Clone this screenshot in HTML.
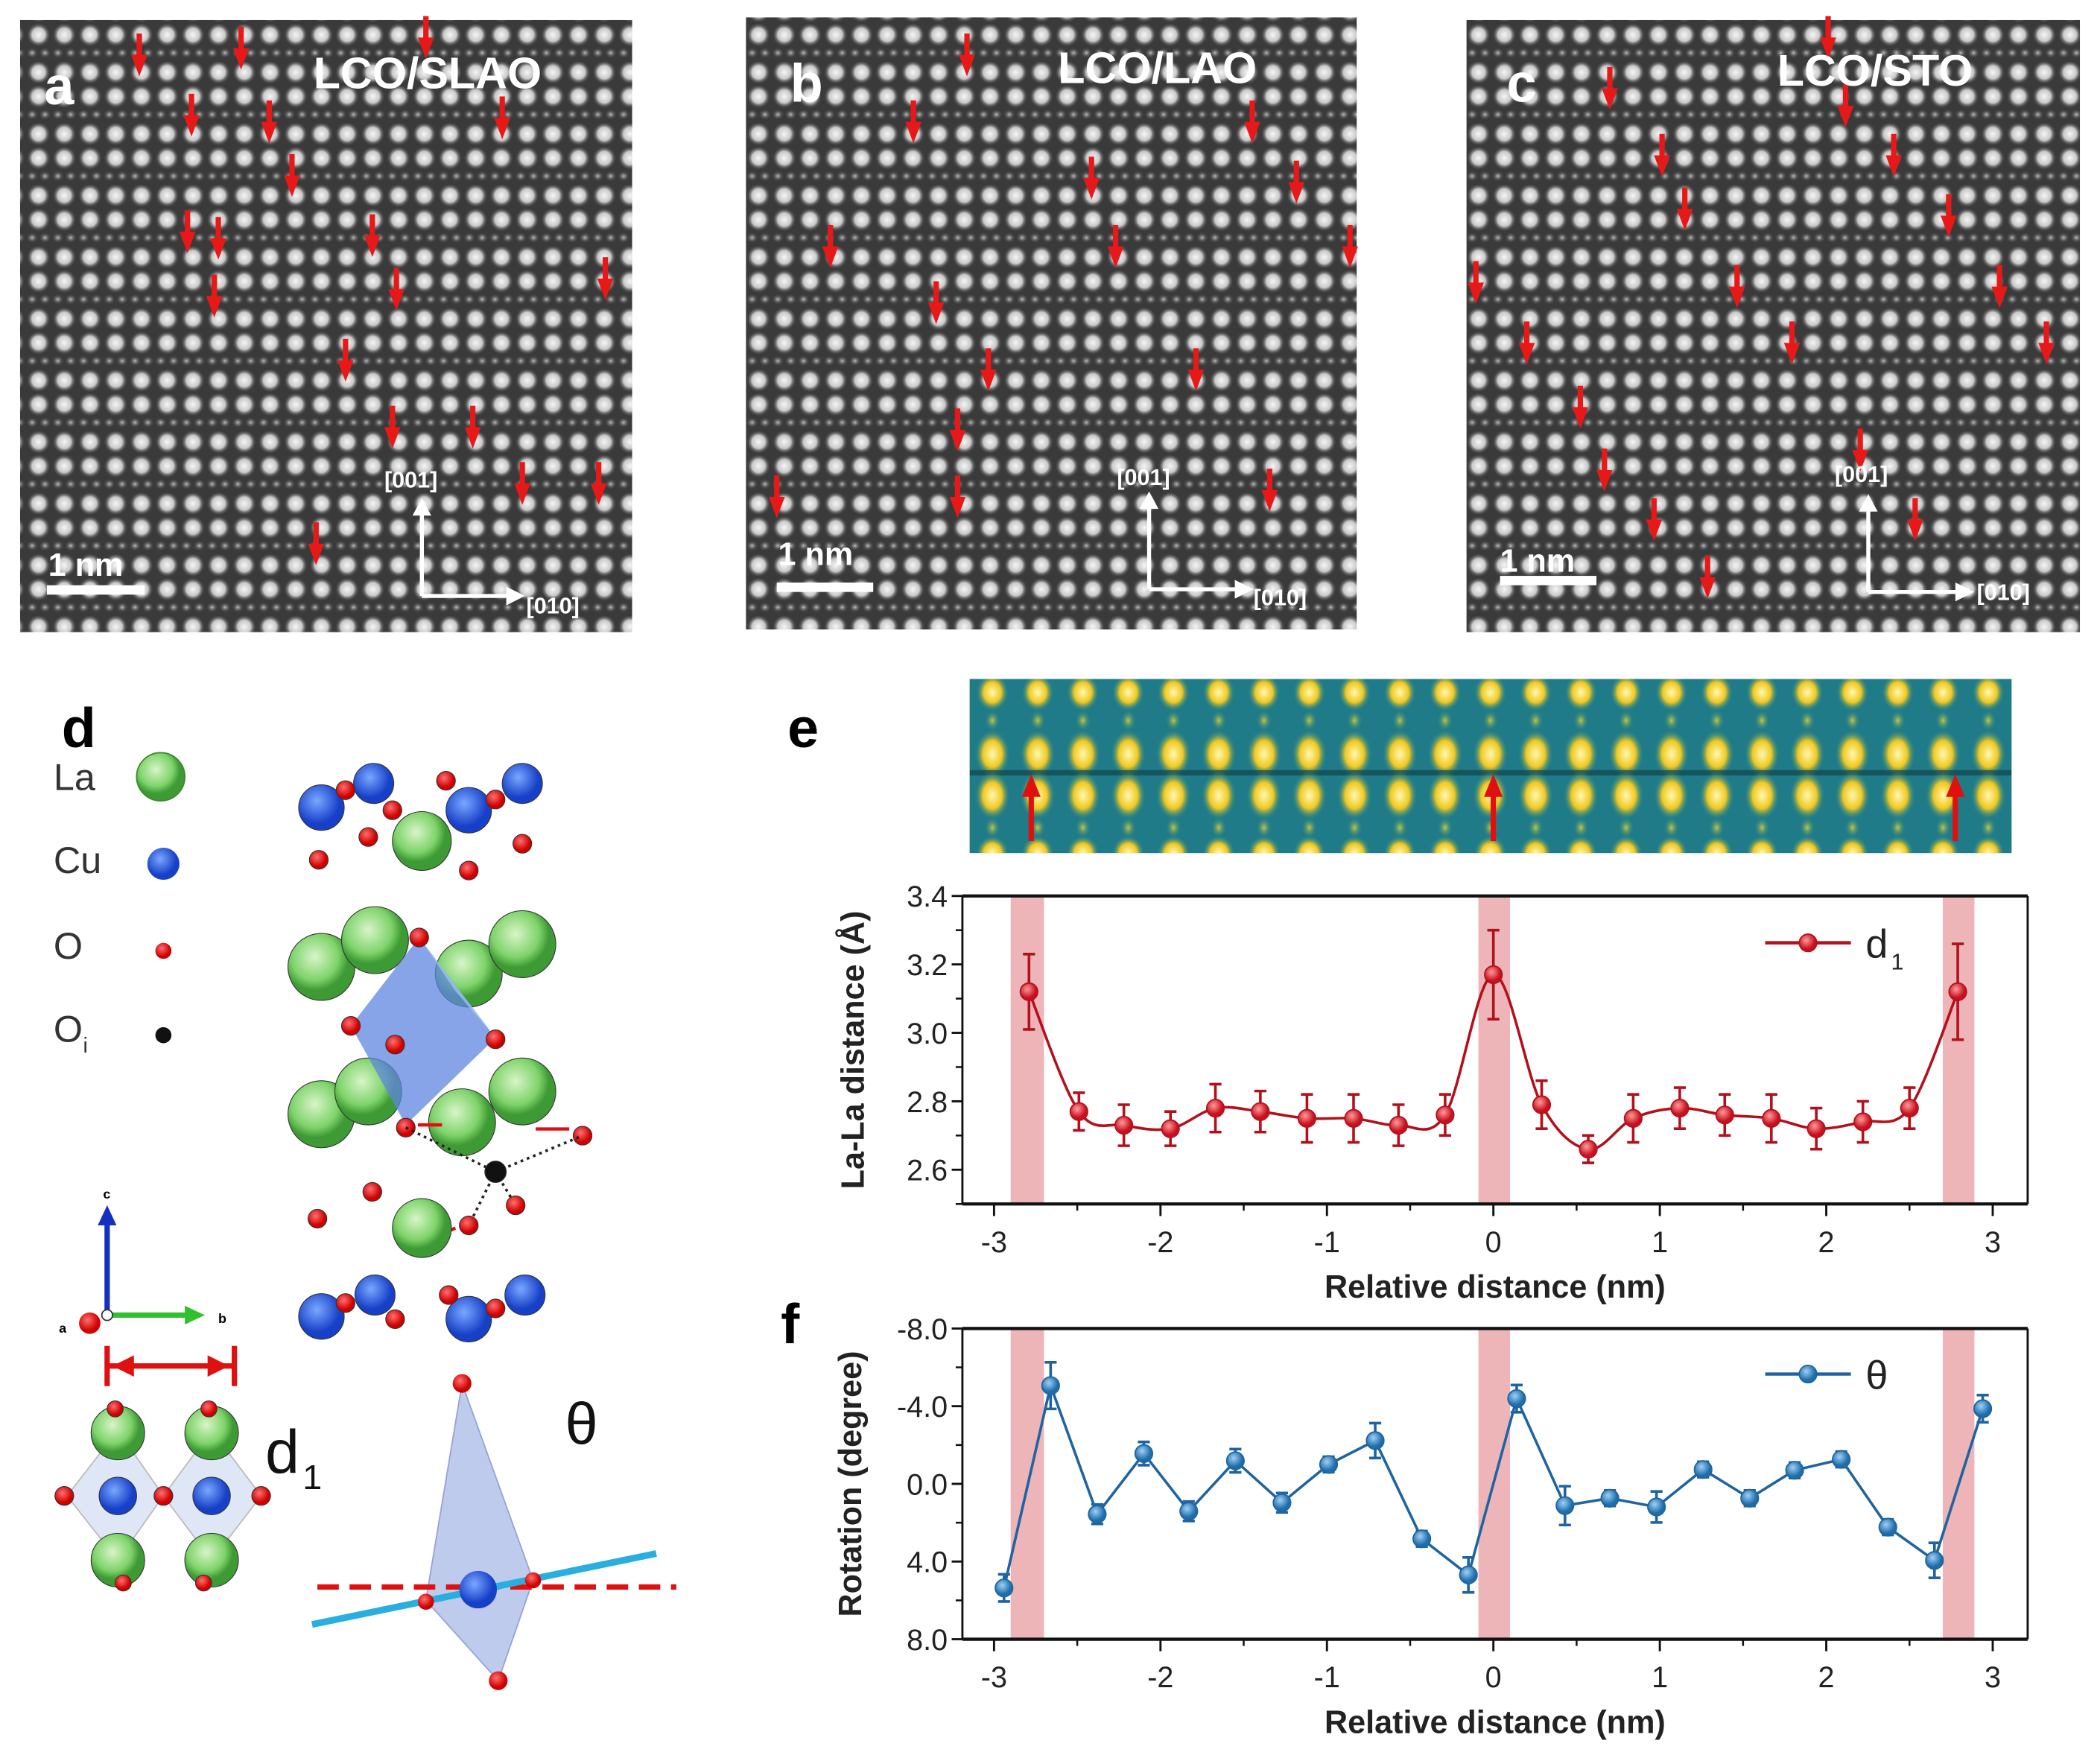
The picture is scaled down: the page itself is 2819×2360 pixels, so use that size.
<!DOCTYPE html>
<html><head><meta charset="utf-8">
<style>
html,body{margin:0;padding:0;background:#fff;}
svg{display:block;font-family:"Liberation Sans",Arial,sans-serif;}
</style></head>
<body>
<svg id="fig" width="2819" height="2360" viewBox="0 0 1568 1312.7" xmlns="http://www.w3.org/2000/svg">
<defs>
  <radialGradient id="dotg"><stop offset="0" stop-color="#f6f6f6"/><stop offset="0.55" stop-color="#c8c8c8"/><stop offset="1" stop-color="#3c3c3c" stop-opacity="0"/></radialGradient>
  <radialGradient id="sdot"><stop offset="0" stop-color="#c0c0c0"/><stop offset="1" stop-color="#444" stop-opacity="0"/></radialGradient>
  <pattern id="stem" width="19.2" height="46" patternUnits="userSpaceOnUse">
    <rect width="19.2" height="46" fill="#3a3a3a"/>
    <ellipse cx="9.6" cy="8" rx="9" ry="9" fill="url(#dotg)"/>
    <ellipse cx="9.6" cy="26" rx="9" ry="9" fill="url(#dotg)"/>
    <ellipse cx="4.8" cy="39.5" rx="4.5" ry="4" fill="url(#sdot)"/>
    <ellipse cx="14.4" cy="39.5" rx="4.5" ry="4" fill="url(#sdot)"/>
  </pattern>
  <radialGradient id="ydot"><stop offset="0" stop-color="#fff8b0"/><stop offset="0.55" stop-color="#f0c820"/><stop offset="1" stop-color="#2a8a8a" stop-opacity="0"/></radialGradient>
  <radialGradient id="ysm"><stop offset="0" stop-color="#c8c840"/><stop offset="1" stop-color="#1f7f8a" stop-opacity="0"/></radialGradient>
  <pattern id="eimg" x="724" y="507" width="33.8" height="130" patternUnits="userSpaceOnUse">
    <rect width="33.8" height="130" fill="#1f7b88"/>
    <ellipse cx="17" cy="10" rx="12" ry="14" fill="url(#ydot)"/>
    <ellipse cx="17" cy="31" rx="6" ry="8" fill="url(#ysm)"/>
    <ellipse cx="17" cy="56" rx="13" ry="18" fill="url(#ydot)"/>
    <rect x="0" y="68" width="33.8" height="4" fill="#0f3a40" opacity="0.6"/>
    <ellipse cx="17" cy="87" rx="13" ry="18" fill="url(#ydot)"/>
    <ellipse cx="17" cy="111" rx="6" ry="8" fill="url(#ysm)"/>
    <ellipse cx="17" cy="130" rx="12" ry="13" fill="url(#ydot)"/>
  </pattern>
  <radialGradient id="gLa" cx="0.4" cy="0.35"><stop offset="0" stop-color="#d8f5c8"/><stop offset="0.7" stop-color="#7ed36a"/><stop offset="1" stop-color="#3e9a34"/></radialGradient>
  <radialGradient id="gCu" cx="0.4" cy="0.35"><stop offset="0" stop-color="#7aa8ff"/><stop offset="1" stop-color="#1740c8"/></radialGradient>
  <radialGradient id="gO" cx="0.4" cy="0.35"><stop offset="0" stop-color="#ff7070"/><stop offset="1" stop-color="#d00000"/></radialGradient>
  <radialGradient id="gRed" cx="0.4" cy="0.35"><stop offset="0" stop-color="#ff9a9a"/><stop offset="1" stop-color="#c8101e"/></radialGradient>
  <radialGradient id="gBlue" cx="0.4" cy="0.35"><stop offset="0" stop-color="#9fd0f5"/><stop offset="1" stop-color="#1f6eaa"/></radialGradient>
</defs>

<!-- Panel a -->
<g>
  <rect x="15" y="15" width="457" height="457" fill="url(#stem)"/>
  <g id="arrA"></g>
  <text x="33" y="78" font-size="40" font-weight="bold" fill="#fff">a</text>
  <text x="234" y="66" font-size="33" font-weight="bold" fill="#fff">LCO/SLAO</text>
  <text x="36" y="430" font-size="24" font-weight="bold" fill="#fff">1 nm</text>
  <rect x="35" y="437" width="73" height="7" fill="#fff"/>
  <text x="287" y="364" font-size="17" font-weight="bold" fill="#fff">[001]</text>
  <text x="393" y="458" font-size="17" font-weight="bold" fill="#fff">[010]</text>
  <path d="M315,445 V378 M315,445 H380" stroke="#fff" stroke-width="3" fill="none"/>
  <path d="M308,385 L315,372 L322,385 Z M378,438 L392,445 L378,452 Z" fill="#fff"/>
</g>
<!-- Panel b -->
<g>
  <rect x="557" y="13" width="456" height="457" fill="url(#stem)"/>
  <g id="arrB"></g>
  <text x="590" y="76" font-size="40" font-weight="bold" fill="#fff">b</text>
  <text x="790" y="62" font-size="33" font-weight="bold" fill="#fff">LCO/LAO</text>
  <text x="581" y="422" font-size="24" font-weight="bold" fill="#fff">1 nm</text>
  <rect x="580" y="435" width="72" height="7" fill="#fff"/>
  <text x="834" y="362" font-size="17" font-weight="bold" fill="#fff">[001]</text>
  <text x="936" y="452" font-size="17" font-weight="bold" fill="#fff">[010]</text>
  <path d="M858,440 V376 M858,440 H925" stroke="#fff" stroke-width="3" fill="none"/>
  <path d="M851,380 L858,367 L865,380 Z M922,433 L936,440 L922,447 Z" fill="#fff"/>
</g>
<!-- Panel c -->
<g>
  <rect x="1095" y="15" width="458" height="457" fill="url(#stem)"/>
  <g id="arrC"></g>
  <text x="1125" y="76" font-size="40" font-weight="bold" fill="#fff">c</text>
  <text x="1327" y="64" font-size="33" font-weight="bold" fill="#fff">LCO/STO</text>
  <text x="1120" y="427" font-size="24" font-weight="bold" fill="#fff">1 nm</text>
  <rect x="1120" y="430" width="72" height="7" fill="#fff"/>
  <text x="1370" y="360" font-size="17" font-weight="bold" fill="#fff">[001]</text>
  <text x="1476" y="448" font-size="17" font-weight="bold" fill="#fff">[010]</text>
  <path d="M1395,442 V378 M1395,442 H1462" stroke="#fff" stroke-width="3" fill="none"/>
  <path d="M1388,382 L1395,369 L1402,382 Z M1460,435 L1474,442 L1460,449 Z" fill="#fff"/>
</g>

<!-- Panel d -->
<g>
  <text x="46" y="558" font-size="42" font-weight="bold" fill="#000">d</text>
  <g font-size="28" fill="#333">
    <text x="40" y="590">La</text><circle cx="120" cy="580" r="18" fill="url(#gLa)" stroke="#3a8a30" stroke-width="1"/>
    <text x="40" y="652">Cu</text><circle cx="122" cy="645" r="12" fill="url(#gCu)"/>
    <text x="40" y="716">O</text><circle cx="122" cy="710" r="6" fill="url(#gO)"/>
    <text x="40" y="778">O</text><text x="62" y="786" font-size="16">i</text><circle cx="122" cy="773" r="6" fill="#111"/>
  </g>
  <g>
    <g stroke="#333" stroke-width="0.6">
      <circle cx="240" cy="603" r="17" fill="url(#gCu)"/><circle cx="279" cy="585" r="15" fill="url(#gCu)"/>
      <circle cx="350" cy="605" r="17" fill="url(#gCu)"/><circle cx="390" cy="585" r="15" fill="url(#gCu)"/>
      <circle cx="258" cy="590" r="7" fill="url(#gO)"/><circle cx="293" cy="605" r="7" fill="url(#gO)"/>
      <circle cx="333" cy="583" r="7" fill="url(#gO)"/><circle cx="370" cy="597" r="7" fill="url(#gO)"/>
      <circle cx="315" cy="628" r="22" fill="url(#gLa)"/>
      <circle cx="238" cy="642" r="7" fill="url(#gO)"/><circle cx="275" cy="625" r="7" fill="url(#gO)"/>
      <circle cx="350" cy="650" r="7" fill="url(#gO)"/><circle cx="390" cy="630" r="7" fill="url(#gO)"/>
      <circle cx="240" cy="722" r="25" fill="url(#gLa)"/><circle cx="280" cy="702" r="25" fill="url(#gLa)"/>
      <circle cx="350" cy="727" r="25" fill="url(#gLa)"/><circle cx="390" cy="705" r="25" fill="url(#gLa)"/>
      <circle cx="240" cy="832" r="25" fill="url(#gLa)"/><circle cx="275" cy="815" r="25" fill="url(#gLa)"/>
      <circle cx="345" cy="838" r="25" fill="url(#gLa)"/><circle cx="390" cy="815" r="25" fill="url(#gLa)"/>
    </g>
    <polygon points="313,700 262,766 303,840 370,775" fill="#5f86e0" opacity="0.75"/>
    <polygon points="313,700 370,775 340,740" fill="#a8c4f5" opacity="0.7"/>
    <g stroke="#333" stroke-width="0.6">
      <circle cx="313" cy="700" r="7" fill="url(#gO)"/><circle cx="262" cy="766" r="7" fill="url(#gO)"/>
      <circle cx="295" cy="780" r="7" fill="url(#gO)"/><circle cx="370" cy="776" r="7" fill="url(#gO)"/>
      <circle cx="303" cy="842" r="7" fill="url(#gO)"/><circle cx="435" cy="848" r="7" fill="url(#gO)"/>
    </g>
    <path d="M303,842 L370,875 L435,848 M370,875 L350,915 M370,875 L385,900" stroke="#222" stroke-width="2" stroke-dasharray="2,3" fill="none"/>
    <path d="M330,840 H312 M400,843 H425 M322,925 L340,917" stroke="#e01010" stroke-width="2.5"/>
    <g stroke="#333" stroke-width="0.6">
      <circle cx="370" cy="875" r="8" fill="#111"/>
      <circle cx="315" cy="917" r="22" fill="url(#gLa)"/>
      <circle cx="237" cy="910" r="7" fill="url(#gO)"/><circle cx="278" cy="890" r="7" fill="url(#gO)"/>
      <circle cx="350" cy="915" r="7" fill="url(#gO)"/><circle cx="385" cy="900" r="7" fill="url(#gO)"/>
      <circle cx="240" cy="983" r="17" fill="url(#gCu)"/><circle cx="280" cy="967" r="15" fill="url(#gCu)"/>
      <circle cx="350" cy="985" r="17" fill="url(#gCu)"/><circle cx="392" cy="967" r="15" fill="url(#gCu)"/>
      <circle cx="258" cy="973" r="7" fill="url(#gO)"/><circle cx="295" cy="985" r="7" fill="url(#gO)"/>
      <circle cx="335" cy="967" r="7" fill="url(#gO)"/><circle cx="370" cy="977" r="7" fill="url(#gO)"/>
    </g>
  </g>
  <g>
    <path d="M80,982 V912" stroke="#1530c0" stroke-width="4"/><path d="M73,915 L80,900 L87,915 Z" fill="#1530c0"/>
    <path d="M80,982 H140" stroke="#30c030" stroke-width="4"/><path d="M138,975 L153,982 L138,989 Z" fill="#30c030"/>
    <circle cx="67" cy="988" r="8" fill="url(#gO)"/><circle cx="80" cy="982" r="4" fill="#fff" stroke="#333"/>
    <text x="77" y="895" font-size="10" font-weight="bold">c</text>
    <text x="163" y="988" font-size="10" font-weight="bold">b</text>
    <text x="44" y="995" font-size="10" font-weight="bold">a</text>
  </g>
  <g>
    <path d="M80,1020 H175 M80,1005 V1035 M175,1005 V1035" stroke="#e01010" stroke-width="4"/>
    <path d="M84,1020 L100,1012 L100,1028 Z M171,1020 L155,1012 L155,1028 Z" fill="#e01010"/>
    <polygon points="88,1068 122,1117 88,1165 50,1117" fill="#dfe6f5" stroke="#bbb"/>
    <polygon points="158,1068 195,1117 158,1165 122,1117" fill="#dfe6f5" stroke="#bbb"/>
    <g stroke="#333" stroke-width="0.6">
      <circle cx="88" cy="1070" r="20" fill="url(#gLa)"/><circle cx="158" cy="1070" r="20" fill="url(#gLa)"/>
      <circle cx="88" cy="1165" r="20" fill="url(#gLa)"/><circle cx="158" cy="1165" r="20" fill="url(#gLa)"/>
      <circle cx="88" cy="1117" r="14" fill="url(#gCu)"/><circle cx="158" cy="1117" r="14" fill="url(#gCu)"/>
      <circle cx="48" cy="1117" r="7" fill="url(#gO)"/><circle cx="122" cy="1117" r="7" fill="url(#gO)"/><circle cx="195" cy="1117" r="7" fill="url(#gO)"/>
      <circle cx="86" cy="1052" r="6" fill="url(#gO)"/><circle cx="156" cy="1052" r="6" fill="url(#gO)"/>
      <circle cx="92" cy="1182" r="6" fill="url(#gO)"/><circle cx="152" cy="1182" r="6" fill="url(#gO)"/>
    </g>
    <text x="198" y="1100" font-size="46" fill="#111">d</text><text x="226" y="1112" font-size="26" fill="#111">1</text>
  </g>
  <g>
    <polygon points="345,1033 398,1180 372,1255 318,1195" fill="#b7c6ec" stroke="#8a9ad0" opacity="0.9"/>
    <path d="M237,1185 H505" stroke="#e01010" stroke-width="4" stroke-dasharray="16,8"/>
    <path d="M233,1213 L490,1160" stroke="#2aaee0" stroke-width="5"/>
    <circle cx="357" cy="1187" r="14" fill="url(#gCu)"/>
    <circle cx="345" cy="1033" r="7" fill="url(#gO)"/><circle cx="372" cy="1255" r="7" fill="url(#gO)"/>
    <circle cx="318" cy="1196" r="6" fill="url(#gO)"/><circle cx="398" cy="1180" r="6" fill="url(#gO)"/>
    <text x="422" y="1078" font-size="44" fill="#111">θ</text>
  </g>
</g>

<!-- Panel e image -->
<g>
  <text x="588" y="558" font-size="42" font-weight="bold">e</text>
  <rect x="724" y="507" width="778" height="130" fill="url(#eimg)"/>
  <g fill="#e01010">
    <rect x="768" y="590" width="4" height="38"/><path d="M763,595 L770,578 L777,595 Z"/>
    <rect x="1113" y="590" width="4" height="38"/><path d="M1108,595 L1115,578 L1122,595 Z"/>
    <rect x="1458" y="590" width="4" height="38"/><path d="M1453,595 L1460,578 L1467,595 Z"/>
  </g>
  <g id="chartE"></g>
</g>
<g>
  <text x="583" y="1003" font-size="42" font-weight="bold">f</text>
  <g id="chartF"></g>
</g>
</svg>
<script>
// ---- data: panel e (La-La distance) ----
const xE = [-2.79,-2.49,-2.22,-1.94,-1.67,-1.40,-1.12,-0.84,-0.57,-0.29,0,0.29,0.57,0.84,1.12,1.39,1.67,1.94,2.22,2.50,2.79];
const d1 = [3.12,2.77,2.73,2.72,2.78,2.77,2.75,2.75,2.73,2.76,3.17,2.79,2.66,2.75,2.78,2.76,2.75,2.72,2.74,2.78,3.12];
const d1Err = [0.11,0.055,0.06,0.05,0.07,0.06,0.07,0.07,0.06,0.06,0.13,0.07,0.04,0.07,0.06,0.06,0.07,0.06,0.06,0.06,0.14];
// ---- data: panel f (rotation) ----
const xF = [-2.94,-2.66,-2.38,-2.10,-1.83,-1.55,-1.27,-0.99,-0.71,-0.43,-0.15,0.14,0.43,0.70,0.98,1.26,1.54,1.81,2.09,2.37,2.65,2.94];
const theta = [5.36,-5.06,1.56,-1.56,1.41,-1.19,0.97,-1.0,-2.23,2.83,4.69,-4.39,1.12,0.74,1.19,-0.74,0.74,-0.7,-1.26,2.23,3.94,-3.87];
const thetaErr = [0.7,1.2,0.5,0.6,0.5,0.6,0.5,0.4,0.9,0.4,0.9,0.7,1.0,0.4,0.8,0.4,0.4,0.4,0.4,0.4,0.9,0.7];
// ---- shared ----
const bands = [[-2.9,-2.7],[-0.09,0.1],[2.7,2.89]];
const xTicks = [-3,-2,-1,0,1,2,3];
const xTickLabels = ["-3","-2","-1","0","1","2","3"];
const yTicksE = [2.6,2.8,3.0,3.2,3.4];
const yTickLabelsE = ["2.6","2.8","3.0","3.2","3.4"];
const yTicksF = [-8,-4,0,4,8];
const yTickLabelsF = ["-8.0","-4.0","0.0","4.0","8.0"];

const NS = "http://www.w3.org/2000/svg";
function mk(parent, tag, attrs){const e=document.createElementNS(NS,tag);for(const k in attrs)e.setAttribute(k,attrs[k]);parent.appendChild(e);return e;}

const arrowsA=[[104,25],[180,20],[318,12],[143,70],[201,75],[375,72],[218,115],[140,157],[163,162],[278,160],[160,205],[296,200],[452,192],[258,253],[293,303],[353,303],[390,345],[447,345],[236,390]];
const arrowsB=[[722,25],[682,75],[935,75],[815,117],[968,120],[620,168],[833,168],[1008,168],[699,210],[738,260],[893,260],[715,305],[580,355],[715,355],[948,350]];
const arrowsC=[[1365,12],[1202,50],[1378,63],[1241,100],[1414,100],[1258,140],[1455,145],[1102,195],[1297,198],[1493,198],[1140,240],[1338,240],[1528,240],[1180,288],[1389,320],[1198,335],[1235,372],[1430,372],[1275,415]];
function drawArrows(id, list){
  const g=document.getElementById(id);
  list.forEach(a=>{
    const r=mk(g,'rect',{x:a[0]-2,y:a[1],width:4,height:22,fill:'#e81818'});
    
    
    mk(g,'path',{d:`M${a[0]-6},${a[1]+16} L${a[0]},${a[1]+32} L${a[0]+6},${a[1]+16} Z`,fill:'#e81818'});
  });
}
drawArrows('arrA',arrowsA);drawArrows('arrB',arrowsB);drawArrows('arrC',arrowsC);

function chart(opts){
  const g=document.getElementById(opts.id);
  const L=718.6,R=1514,T=opts.top,B=opts.bottom;
  const xMin=-3.19,xMax=3.21;
  const sx=v=>L+(v-xMin)/(xMax-xMin)*(R-L);
  const sy=v=>opts.invert? T+(v-opts.yMin)/(opts.yMax-opts.yMin)*(B-T) : B-(v-opts.yMin)/(opts.yMax-opts.yMin)*(B-T);
  bands.forEach(b=>{
    const r=mk(g,'rect',{x:sx(b[0]),y:T,width:sx(b[1])-sx(b[0]),height:B-T,fill:'#eaa8ab',opacity:0.85});
    
    
  });
  mk(g,'line',{x1:L,y1:T,x2:R,y2:T,stroke:'#111','stroke-width':2.4});
  mk(g,'line',{x1:L,y1:B,x2:R,y2:B,stroke:'#111','stroke-width':2.4});
  mk(g,'line',{x1:L,y1:T,x2:L,y2:B,stroke:'#111','stroke-width':1.6});
  mk(g,'line',{x1:R,y1:T,x2:R,y2:B,stroke:'#111','stroke-width':1.6});
  xTicks.forEach((t,i)=>{
    mk(g,'line',{x1:sx(t),y1:B,x2:sx(t),y2:B+9,stroke:'#111','stroke-width':1.6});
    if(i<xTicks.length-1) mk(g,'line',{x1:sx(t+0.5),y1:B,x2:sx(t+0.5),y2:B+5,stroke:'#111','stroke-width':1.4});
    const tx=mk(g,'text',{x:sx(t),y:B+36,'font-size':22,'text-anchor':'middle',fill:'#222'});
    tx.textContent=xTickLabels[i];
    
    
  });
  opts.yTicks.forEach((t,i)=>{
    mk(g,'line',{x1:L-8,y1:sy(t),x2:L,y2:sy(t),stroke:'#111','stroke-width':1.6});
    if(i<opts.yTicks.length-1) mk(g,'line',{x1:L-5,y1:sy((t+opts.yTicks[i+1])/2),x2:L,y2:sy((t+opts.yTicks[i+1])/2),stroke:'#111','stroke-width':1.4});
    const tx=mk(g,'text',{x:L-11,y:sy(t)+8,'font-size':22,'text-anchor':'end',fill:'#222'});
    tx.textContent=opts.yTickLabels[i];
    
    
  });
  if(opts.minorBottom!==undefined) mk(g,'line',{x1:L-5,y1:sy(opts.minorBottom),x2:L,y2:sy(opts.minorBottom),stroke:'#111','stroke-width':1.4});
  const xt=mk(g,'text',{x:(L+R)/2,y:B+70,'font-size':24,'font-weight':'bold','text-anchor':'middle',fill:'#222'});
  xt.textContent='Relative distance (nm)';
  
  
  const yt=mk(g,'text',{x:0,y:0,'font-size':24,'font-weight':'bold','text-anchor':'middle',fill:'#222',transform:`translate(${opts.ytx},${(T+B)/2}) rotate(-90)`});
  yt.textContent=opts.yTitle;
  
  
  const xs=opts.x, ys=opts.y;
  const P=xs.map((v,i)=>[sx(v),sy(ys[i])]);
  let d='M'+P[0][0]+','+P[0][1];
  if(opts.smooth){
    for(let i=0;i<P.length-1;i++){
      const p0=P[Math.max(i-1,0)],p1=P[i],p2=P[i+1],p3=P[Math.min(i+2,P.length-1)];
      const c1=[p1[0]+(p2[0]-p0[0])/6,p1[1]+(p2[1]-p0[1])/6];
      const c2=[p2[0]-(p3[0]-p1[0])/6,p2[1]-(p3[1]-p1[1])/6];
      d+=` C${c1[0]},${c1[1]} ${c2[0]},${c2[1]} ${p2[0]},${p2[1]}`;
    }
  } else { for(let i=1;i<P.length;i++) d+=` L${P[i][0]},${P[i][1]}`; }
  const ln=mk(g,'path',{d:d,fill:'none',stroke:opts.color,'stroke-width':2});
  
  
  xs.forEach((v,i)=>{
    const cx=sx(v),y1=sy(ys[i]-opts.err[i]),y2=sy(ys[i]+opts.err[i]);
    mk(g,'path',{d:`M${cx},${y1} V${y2} M${cx-4.5},${y1} H${cx+4.5} M${cx-4.5},${y2} H${cx+4.5}`,stroke:opts.color,'stroke-width':2,fill:'none'});
    const c=mk(g,'circle',{cx:cx,cy:sy(ys[i]),r:6.5,fill:opts.fill,stroke:opts.color,'stroke-width':1});
    
    
  });
  const ly=opts.legendY;
  mk(g,'line',{x1:1318,y1:ly,x2:1382,y2:ly,stroke:opts.color,'stroke-width':2.5});
  mk(g,'circle',{cx:1350,cy:ly,r:6.5,fill:opts.fill,stroke:opts.color});
  const lt=mk(g,'text',{x:1393,y:ly+11,'font-size':30,fill:'#222'});
  lt.textContent=opts.legend;
  
  
  if(opts.sub){const s=mk(g,'text',{x:1412,y:ly+20,'font-size':17,fill:'#222'});s.textContent=opts.sub;}
}
chart({id:'chartE',top:669,bottom:899,yMin:2.5,yMax:3.4,yTicks:yTicksE,yTickLabels:yTickLabelsE,minorBottom:2.5,
  x:xE,y:d1,err:d1Err,color:'#b3101c',fill:'url(#gRed)',smooth:true,legend:'d',sub:'1',legendY:704,
  yTitle:'La-La distance (Å)',ytx:645});
chart({id:'chartF',top:992,bottom:1224,yMin:-8,yMax:8,invert:true,yTicks:yTicksF,yTickLabels:yTickLabelsF,
  x:xF,y:theta,err:thetaErr,color:'#1f64a0',fill:'url(#gBlue)',smooth:false,legend:'θ',legendY:1026,
  yTitle:'Rotation (degree)',ytx:643});
</script>
</body></html>
